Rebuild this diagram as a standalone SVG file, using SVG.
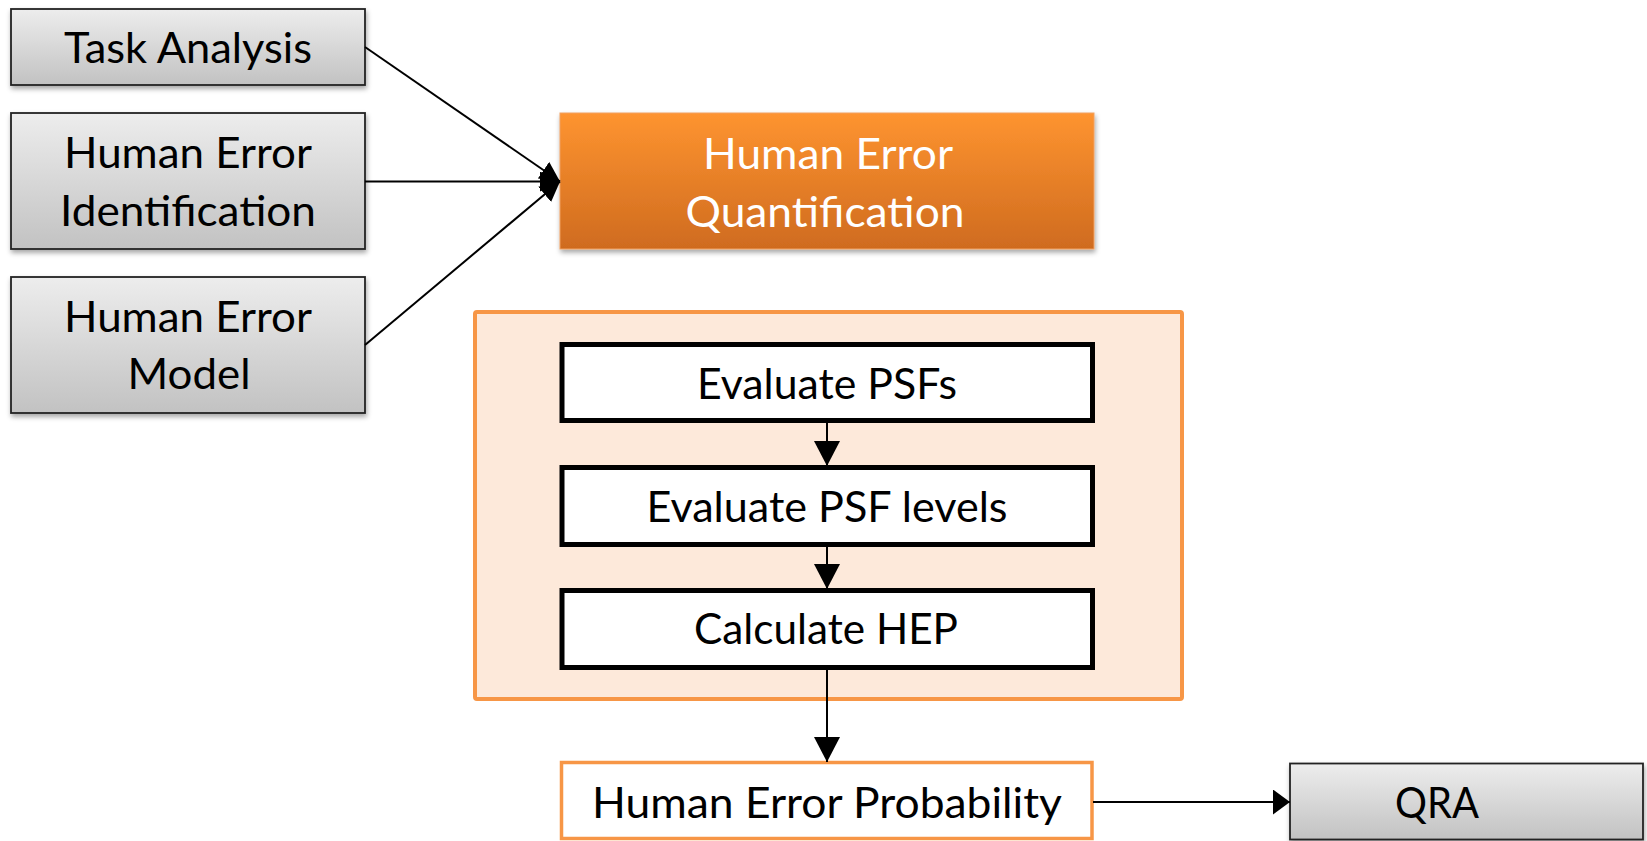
<svg xmlns="http://www.w3.org/2000/svg" width="1647" height="841" viewBox="0 0 1647 841">
<style>
text{font-family:Lato,"Open Sans","Liberation Sans",sans-serif;font-size:42px;text-anchor:middle;fill:#000}
.gray{fill:url(#gGray);stroke:#222;stroke-width:1.8;filter:url(#sh)}
.orange{fill:url(#gOrange);stroke:#f0a060;stroke-width:1;filter:url(#sh)}
.step{fill:#fff;stroke:#000;stroke-width:5}
.wt{fill:#fff}
.con{stroke:#000;stroke-width:2;fill:none}
</style>
<defs>
<linearGradient id="gGray" x1="0" y1="0" x2="0" y2="1">
<stop offset="0" stop-color="#ededed"/>
<stop offset="1" stop-color="#c2c2c2"/>
</linearGradient>
<linearGradient id="gOrange" x1="0" y1="0" x2="0" y2="1">
<stop offset="0" stop-color="#fe9430"/>
<stop offset="1" stop-color="#cf6b1f"/>
</linearGradient>
<filter id="sh" x="-10%" y="-10%" width="120%" height="130%">
<feDropShadow dx="1" dy="3" stdDeviation="2.5" flood-color="#000" flood-opacity="0.35"/>
</filter>
<marker id="aS" markerUnits="userSpaceOnUse" viewBox="0 0 20 20" refX="20" refY="10" markerWidth="20" markerHeight="20" orient="auto">
<path d="M0,0 L20,10 L0,20 Z" fill="#000"/>
</marker>
<marker id="aL" markerUnits="userSpaceOnUse" viewBox="0 0 25 26" refX="25" refY="13" markerWidth="25" markerHeight="26" orient="auto">
<path d="M0,0 L25,13 L0,26 Z" fill="#000"/>
</marker>
<marker id="aH" markerUnits="userSpaceOnUse" viewBox="0 0 17 25" refX="17" refY="12.5" markerWidth="17" markerHeight="25" orient="auto">
<path d="M0,0 L17,12.5 L0,25 Z" fill="#000"/>
</marker>
</defs>

<g id="container">
<rect x="475" y="312" width="707" height="387" rx="2" fill="#fde9da" stroke="#f79646" stroke-width="4"/>
</g>

<g id="task-analysis">
<rect class="gray" x="11" y="9" width="354" height="76"/>
<text x="188" y="63" textLength="248" lengthAdjust="spacingAndGlyphs">Task Analysis</text>
</g>
<g id="hei">
<rect class="gray" x="11" y="113" width="354" height="136"/>
<text x="188" y="168" textLength="248" lengthAdjust="spacingAndGlyphs">Human Error</text>
<text x="188" y="226" textLength="256" lengthAdjust="spacingAndGlyphs">Identification</text>
</g>
<g id="hem">
<rect class="gray" x="11" y="277" width="354" height="136"/>
<text x="188" y="332" textLength="248" lengthAdjust="spacingAndGlyphs">Human Error</text>
<text x="189" y="389" textLength="123" lengthAdjust="spacingAndGlyphs">Model</text>
</g>
<g id="heq">
<rect class="orange" x="560" y="113" width="534" height="136"/>
<text class="wt" x="828" y="169" textLength="250" lengthAdjust="spacingAndGlyphs">Human Error</text>
<text class="wt" x="825" y="227" textLength="279" lengthAdjust="spacingAndGlyphs">Quantification</text>
</g>
<g id="eval-psfs">
<rect class="step" x="562" y="344.5" width="530.5" height="76"/>
<text x="827" y="399" textLength="260" lengthAdjust="spacingAndGlyphs">Evaluate PSFs</text>
</g>
<g id="eval-levels">
<rect class="step" x="562" y="467.5" width="530.5" height="77"/>
<text x="827" y="522" textLength="361" lengthAdjust="spacingAndGlyphs">Evaluate PSF levels</text>
</g>
<g id="calc-hep">
<rect class="step" x="562" y="590.5" width="530.5" height="77"/>
<text x="826" y="644" textLength="264" lengthAdjust="spacingAndGlyphs">Calculate HEP</text>
</g>
<g id="hep">
<rect x="561.5" y="762.5" width="530.5" height="76" fill="#fff" stroke="#f79646" stroke-width="3.5"/>
<text x="827" y="818" textLength="470" lengthAdjust="spacingAndGlyphs">Human Error Probability</text>
</g>
<g id="qra">
<rect class="gray" x="1290" y="763.5" width="353" height="76"/>
<text x="1437" y="818" textLength="84" lengthAdjust="spacingAndGlyphs">QRA</text>
</g>

<g id="connectors">
<line class="con" x1="365" y1="47" x2="560" y2="181.5" marker-end="url(#aS)"/>
<line class="con" x1="365" y1="181.5" x2="560" y2="181.5" marker-end="url(#aS)"/>
<line class="con" x1="365" y1="345" x2="560" y2="181.5" marker-end="url(#aS)"/>
<line class="con" x1="827" y1="423" x2="827" y2="466" marker-end="url(#aL)"/>
<line class="con" x1="827" y1="547" x2="827" y2="589" marker-end="url(#aL)"/>
<line class="con" x1="827" y1="670" x2="827" y2="762" marker-end="url(#aL)"/>
<line class="con" x1="1093" y1="802" x2="1290" y2="802" marker-end="url(#aH)"/>
</g>
</svg>
